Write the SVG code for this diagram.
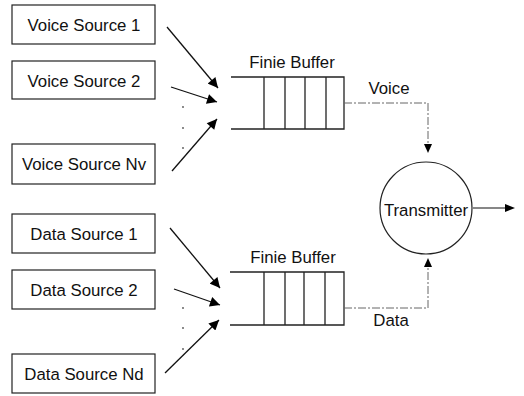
<svg xmlns="http://www.w3.org/2000/svg" width="524" height="396" viewBox="0 0 524 396">
<defs>
<marker id="ah" viewBox="0 0 10 10" refX="10" refY="5" markerWidth="11" markerHeight="10" markerUnits="userSpaceOnUse" orient="auto">
<path d="M0,0 L10,5 L0,10 Z" fill="#000"/>
</marker>
</defs>
<style>
text{font-family:"Liberation Sans",Arial,sans-serif;font-size:16.8px;fill:#111}
.box{fill:#fff;stroke:#222;stroke-width:1.2}
.buf{fill:none;stroke:#222;stroke-width:1.3}
.arr{stroke:#111;stroke-width:1.3;fill:none;marker-end:url(#ah)}
.dash{stroke:#666;stroke-width:1;fill:none;stroke-dasharray:8 2 2 2}
.dot{fill:#555}
</style>
<rect width="524" height="396" fill="#fff"/>
<g id="voice1"><rect class="box" x="12" y="5" width="143" height="39"/><text x="84" y="31" text-anchor="middle">Voice Source 1</text></g>
<g id="voice2"><rect class="box" x="12" y="61" width="143" height="38"/><text x="84" y="87" text-anchor="middle">Voice Source 2</text></g>
<g id="voiceNv"><rect class="box" x="12" y="144" width="143" height="40"/><text x="84" y="170" text-anchor="middle">Voice Source Nv</text></g>
<g id="data1"><rect class="box" x="12" y="214" width="143" height="39"/><text x="84" y="240" text-anchor="middle">Data Source 1</text></g>
<g id="data2"><rect class="box" x="12" y="270" width="143" height="39"/><text x="84" y="296" text-anchor="middle">Data Source 2</text></g>
<g id="dataNd"><rect class="box" x="12" y="354" width="143" height="39"/><text x="84" y="380" text-anchor="middle">Data Source Nd</text></g>
<g id="dots">
<circle class="dot" cx="183" cy="107" r="0.9"/><circle class="dot" cx="183" cy="128" r="0.9"/><circle class="dot" cx="183" cy="148" r="0.9"/>
<circle class="dot" cx="183" cy="308" r="0.9"/><circle class="dot" cx="183" cy="328" r="0.9"/><circle class="dot" cx="183" cy="349" r="0.9"/>
</g>
<g id="voiceBuffer">
<text x="292" y="68" text-anchor="middle">Finie Buffer</text>
<path class="buf" d="M231,77 H344 V129 H231 M264,77 V129 M285,77 V129 M305,77 V129 M326,77 V129"/>
</g>
<g id="dataBuffer">
<text x="293" y="263" text-anchor="middle">Finie Buffer</text>
<path class="buf" d="M230,272 H344 V325 H230 M264,272 V325 M285,272 V325 M304,272 V325 M325,272 V325"/>
</g>
<g id="transmitter">
<circle cx="426" cy="208" r="46" fill="#fff" stroke="#222" stroke-width="1.2"/>
<text x="426" y="216" text-anchor="middle">Transmitter</text>
</g>
<g id="connectors">
<line class="arr" x1="167" y1="27" x2="218" y2="88"/>
<line class="arr" x1="171" y1="87" x2="217" y2="102"/>
<line class="arr" x1="172" y1="171" x2="217" y2="119"/>
<line class="arr" x1="170" y1="228" x2="220" y2="288"/>
<line class="arr" x1="174" y1="289" x2="220" y2="305"/>
<line class="arr" x1="165" y1="373" x2="219" y2="320"/>
<path class="dash" d="M344,103 H428 V146"/>
<path d="M424,144 L432,144 L428,153 Z" fill="#000"/>
<path class="dash" d="M344,308 H428 V266"/>
<path d="M424,267 L432,267 L428,258 Z" fill="#000"/>
<line x1="473" y1="208" x2="507" y2="208" stroke="#111" stroke-width="1.2"/>
<path d="M505,204 L515,208 L505,212 Z" fill="#000"/>
<text x="389" y="94" text-anchor="middle">Voice</text>
<text x="391" y="326" text-anchor="middle">Data</text>
</g>
</svg>
